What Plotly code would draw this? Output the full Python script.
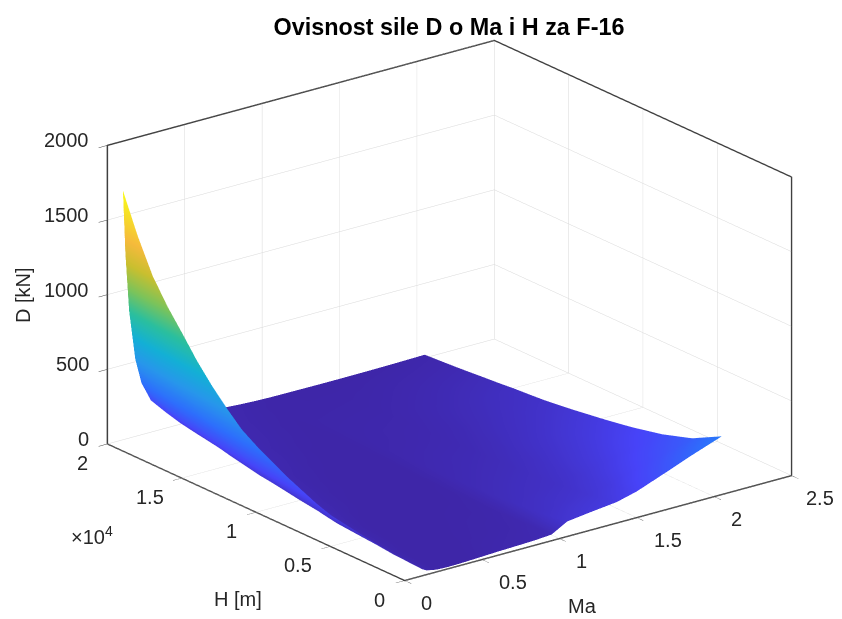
import plotly.graph_objects as go

ma_values = [0.1, 0.116, 0.14, 0.18, 0.22, 0.28, 0.35, 0.45, 0.6, 0.75, 0.85, 0.95, 1.05, 1.2, 1.37, 1.5, 1.69, 1.85, 2.05]
h_values = [0, 2000, 4000, 6000, 7000, 8000, 9000, 10000, 11000, 12000, 13000, 14000, 15000, 16000, 17000, 18000, 19000, 20000]
d_h00000 = [55, 42, 29, 19, 14, 12, 13, 17, 24, 29, 33, 41, 100, 120, 140, 175, 250, 315, 390]
d_h02000 = [70, 53, 37, 23, 16, 13, 12, 13, 18, 21, 24, 30, 72, 88, 102, 128, 182, 230, 285]
d_h04000 = [100, 75, 52, 32, 23, 16, 12, 13, 15, 18, 19, 23, 56, 67, 78, 98, 140, 176, 220]
d_h06000 = [135, 100, 69, 43, 29, 19, 15, 13, 14, 15, 16, 19, 45, 54, 63, 79, 112, 142, 175]
d_h07000 = [170, 126, 87, 54, 36, 24, 17, 14, 14, 14, 15, 18, 40, 48, 56, 70, 100, 127, 157]
d_h08000 = [215, 160, 110, 67, 46, 30, 21, 16, 14, 14, 15, 16, 36, 43, 50, 63, 90, 113, 140]
d_h09000 = [260, 193, 133, 81, 55, 35, 24, 17, 14, 14, 14, 16, 33, 39, 45, 56, 80, 100, 125]
d_h10000 = [315, 234, 161, 98, 66, 41, 28, 19, 15, 14, 13, 14, 30, 36, 40, 50, 70, 88, 110]
d_h11000 = [370, 275, 189, 114, 78, 48, 32, 21, 15, 14, 13, 14, 27, 32, 36, 45, 63, 78, 97]
d_h12000 = [435, 323, 222, 134, 91, 57, 38, 24, 17, 14, 13, 14, 25, 28, 33, 40, 56, 70, 85]
d_h13000 = [530, 394, 270, 164, 111, 69, 45, 29, 19, 15, 13, 14, 23, 26, 30, 37, 51, 63, 77]
d_h14000 = [635, 472, 324, 196, 132, 82, 53, 34, 22, 16, 15, 14, 22, 25, 27, 34, 46, 57, 70]
d_h15000 = [755, 561, 385, 233, 156, 98, 63, 39, 24, 18, 16, 14, 21, 23, 25, 31, 40, 50, 60]
d_h16000 = [895, 665, 456, 277, 185, 116, 74, 46, 28, 20, 17, 15, 20, 21, 22, 27, 35, 43, 52]
d_h17000 = [1030, 765, 525, 318, 213, 133, 85, 52, 31, 22, 18, 16, 18, 19, 20, 23, 30, 36, 43]
d_h18000 = [1190, 884, 607, 368, 246, 152, 99, 59, 35, 24, 20, 17, 17, 17, 18, 20, 25, 29, 35]
d_h19000 = [1410, 1048, 719, 436, 292, 180, 117, 70, 41, 27, 22, 18, 17, 16, 16, 17, 20, 23, 28]
d_h20000 = [1670, 1241, 852, 516, 346, 214, 137, 83, 48, 32, 25, 20, 17, 16, 15, 15, 16, 18, 22]
d_matrix = [d_h00000, d_h02000, d_h04000, d_h06000, d_h07000, d_h08000, d_h09000, d_h10000, d_h11000,
            d_h12000, d_h13000, d_h14000, d_h15000, d_h16000, d_h17000, d_h18000, d_h19000, d_h20000]

ma_ticks = [0, 0.5, 1, 1.5, 2, 2.5]
ma_labels = ["0", "0.5", "1", "1.5", "2", "2.5"]
h_ticks = [0, 5000, 10000, 15000, 20000]
h_labels = ["0", "0.5", "1", "1.5", "2"]
d_ticks = [0, 500, 1000, 1500, 2000]
d_labels = ["0", "500", "1000", "1500", "2000"]

parula = [
    [0.0, "#3e26a8"], [0.1, "#4743f8"], [0.2, "#2d6ffc"], [0.3, "#2797eb"],
    [0.4, "#13b0d5"], [0.5, "#2bbf9e"], [0.6, "#7cc35a"], [0.7, "#c9bf2f"],
    [0.8, "#f5ba3c"], [0.9, "#f6dc2a"], [1.0, "#f9fb15"],
]

TXT = "#262626"
FONT = "Liberation Sans"


def axis(tickvals, rng):
    return dict(
        title=dict(text=""),
        range=rng, tickvals=tickvals, showticklabels=False,
        showbackground=False, showgrid=True, gridcolor="#d8d8d8", gridwidth=1,
        showline=True, linecolor="#404040", linewidth=3, mirror=True,
        ticks="outside", ticklen=11, tickcolor="#404040", zeroline=False,
        showspikes=False,
    )


def label(text, x, y, z, xshift, yshift, size=20, **kw):
    return dict(text=text, x=x, y=y, z=z, xshift=xshift, yshift=yshift, showarrow=False,
                font=dict(size=size, color=TXT, family=FONT), **kw)


ann = []
for v, t in zip(ma_ticks, ma_labels):
    shift = 28 if t == "2.5" else (22 if len(t) == 1 else 31)
    ann.append(label(t, v, 0, 0, shift, -22))
for v, t in zip(h_ticks, h_labels):
    ann.append(label(t, 0, v, 0, -25 if len(t) == 1 else -32, -19))
for v, t in zip(d_ticks, d_labels):
    ann.append(label(t, 0, 20000, v, -16, 5, xanchor="right"))
ann.append(label("Ma", 1.25, 0, 0, -16, -78))
ann.append(label("H [m]", 0, 10000, 0, -18, -87))
ann.append(label("D [kN]", 0, 20000, 1000, -85, 0, textangle=-90))

fig = go.Figure(go.Surface(
    x=ma_values, y=h_values, z=d_matrix,
    colorscale=parula, cmin=12, cmax=1670, showscale=False,
    lighting=dict(ambient=1, diffuse=0, specular=0, roughness=1, fresnel=0),
    hoverinfo="skip",
))
fig.update_layout(
    width=842, height=619, margin=dict(l=0, r=0, t=0, b=0),
    paper_bgcolor="white",
    title=dict(text="<b>Ovisnost sile D o Ma i H za F-16</b>", x=441 / 842, xanchor="center",
               y=1 - 19 / 619, yanchor="middle", font=dict(size=23.4, color="#000000", family=FONT)),
    scene=dict(
        domain=dict(x=[41 / 842, 1], y=[14 / 619, 1]),
        aspectmode="manual", aspectratio=dict(x=1.613, y=1.613, z=1.055),
        camera=dict(
            projection=dict(type="orthographic"),
            eye=dict(x=-0.570, y=-0.742, z=0.353),
            center=dict(x=0, y=0, z=0), up=dict(x=0, y=0, z=1),
        ),
        xaxis=axis(ma_ticks, [0, 2.5]),
        yaxis=axis(h_ticks, [0, 20000]),
        zaxis=axis(d_ticks, [0, 2000]),
        annotations=ann,
    ),
    annotations=[dict(text="×10<sup>4</sup>", x=84 / 842, y=1 - 527 / 619, xref="paper", yref="paper",
                      xanchor="center", yanchor="middle", showarrow=False,
                      font=dict(size=20, color=TXT, family=FONT))],
)
fig.write_html("out.html")
